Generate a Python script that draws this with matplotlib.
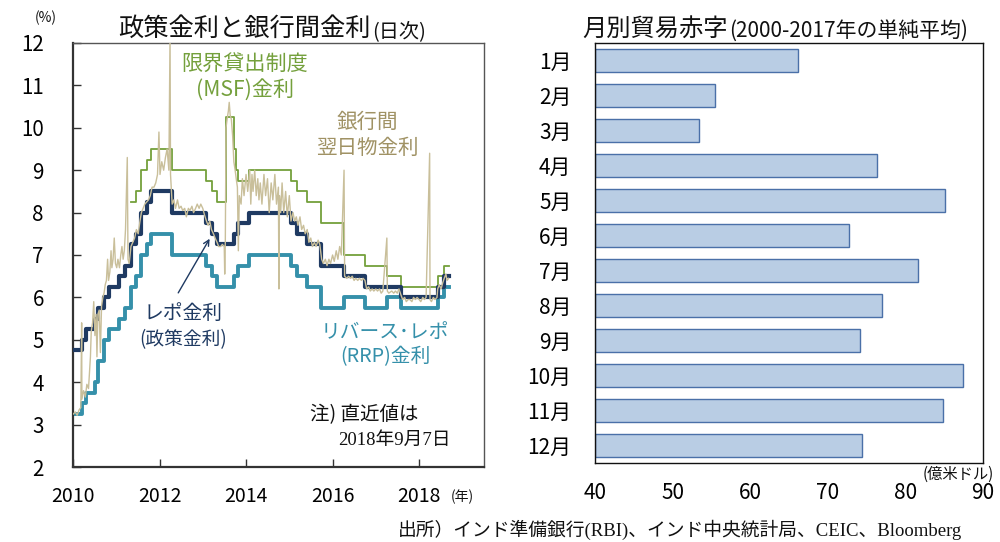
import matplotlib
matplotlib.use("Agg")
import matplotlib.pyplot as plt
import pandas as pd
import numpy as np

plt.rcParams['font.family'] = ['Noto Sans CJK JP', 'DejaVu Sans']

# ---------------- data ----------------
end_date = "2018-09-07"

repo_dates = ["2010-01-01", "2010-03-19", "2010-04-20", "2010-07-02", "2010-07-27", "2010-09-16",
              "2010-11-02", "2011-01-25", "2011-03-17", "2011-05-03", "2011-06-16", "2011-07-26",
              "2011-09-16", "2011-10-25", "2012-04-17", "2013-01-29", "2013-03-19", "2013-05-03",
              "2013-09-20", "2013-10-29", "2014-01-28", "2015-01-15", "2015-03-04", "2015-06-02",
              "2015-09-29", "2016-04-05", "2016-10-04", "2017-08-02", "2018-06-06", "2018-08-01"]
repo_rates = [4.75, 5.00, 5.25, 5.50, 5.75, 6.00, 6.25, 6.50, 6.75, 7.25, 7.50, 8.00, 8.25, 8.50,
              8.00, 7.75, 7.50, 7.25, 7.50, 7.75, 8.00, 7.75, 7.50, 7.25, 6.75, 6.50, 6.25, 6.00,
              6.25, 6.50]

rrp_dates = ["2010-01-01", "2010-03-19", "2010-04-20", "2010-07-02", "2010-07-27", "2010-09-16",
             "2010-11-02", "2011-01-25", "2011-03-17", "2011-05-03", "2011-06-16", "2011-07-26",
             "2011-09-16", "2011-10-25", "2012-04-17", "2013-01-29", "2013-03-19", "2013-05-03",
             "2013-09-20", "2013-10-29", "2014-01-28", "2015-01-15", "2015-03-04", "2015-06-02",
             "2015-09-29", "2016-04-05", "2016-10-04", "2017-04-06", "2017-08-02", "2018-06-06",
             "2018-08-01"]
rrp_rates = [3.25, 3.50, 3.75, 4.00, 4.50, 5.00, 5.25, 5.50, 5.75, 6.25, 6.50, 7.00, 7.25, 7.50,
             7.00, 6.75, 6.50, 6.25, 6.50, 6.75, 7.00, 6.75, 6.50, 6.25, 5.75, 6.00, 5.75, 6.00,
             5.75, 6.00, 6.25]

msf_dates = ["2011-05-03", "2011-06-16", "2011-07-26", "2011-09-16", "2011-10-25", "2012-04-17",
             "2013-01-29", "2013-03-19", "2013-05-03", "2013-07-15", "2013-09-20", "2013-10-07",
             "2013-10-29", "2014-01-28", "2015-01-15", "2015-03-04", "2015-06-02", "2015-09-29",
             "2016-04-05", "2016-10-04", "2017-04-06", "2017-08-02", "2018-06-06", "2018-08-01"]
msf_rates = [8.25, 8.50, 9.00, 9.25, 9.50, 9.00, 8.75, 8.50, 8.25, 10.25, 9.50, 9.00, 8.75, 9.00,
             8.75, 8.50, 8.25, 7.75, 7.00, 6.75, 6.50, 6.25, 6.50, 6.75]

call_dates = [
    "2010-01-04", "2010-01-20", "2010-02-05", "2010-02-22", "2010-03-08", "2010-03-15", "2010-03-17",
    "2010-03-31", "2010-04-15", "2010-04-28", "2010-05-12", "2010-05-28", "2010-06-04", "2010-06-15",
    "2010-06-25", "2010-07-05", "2010-07-15", "2010-07-22", "2010-07-30", "2010-08-10", "2010-08-20",
    "2010-08-30", "2010-09-10", "2010-09-20", "2010-09-30", "2010-10-10", "2010-10-20", "2010-10-28",
    "2010-11-08", "2010-11-18", "2010-11-25", "2010-12-05", "2010-12-15", "2010-12-25",
    "2011-01-05", "2011-01-15", "2011-01-28", "2011-02-08", "2011-02-18", "2011-02-28", "2011-03-10",
    "2011-03-20", "2011-04-04", "2011-04-10", "2011-04-20", "2011-05-05", "2011-05-20", "2011-06-05",
    "2011-06-20", "2011-07-05", "2011-07-20", "2011-08-01", "2011-08-15", "2011-08-30", "2011-09-15",
    "2011-09-30", "2011-10-15", "2011-10-30", "2011-11-15", "2011-11-30", "2011-12-15", "2011-12-27",
    "2012-01-05", "2012-01-20", "2012-02-05", "2012-02-20", "2012-03-05", "2012-03-20", "2012-03-30",
    "2012-04-03", "2012-04-17", "2012-05-01", "2012-05-15", "2012-06-01", "2012-06-15", "2012-07-01",
    "2012-07-15", "2012-08-01", "2012-08-15", "2012-09-01", "2012-09-15", "2012-10-01", "2012-10-15",
    "2012-11-01", "2012-11-15", "2012-12-01", "2012-12-15",
    "2013-01-01", "2013-01-15", "2013-02-01", "2013-02-15", "2013-03-01", "2013-03-15", "2013-04-01",
    "2013-04-15", "2013-05-01", "2013-05-15", "2013-06-01", "2013-06-15", "2013-07-01", "2013-07-05",
    "2013-07-10", "2013-07-16", "2013-07-25", "2013-08-05", "2013-08-12", "2013-08-20", "2013-08-30",
    "2013-09-10", "2013-09-20", "2013-10-01", "2013-10-10", "2013-10-20", "2013-10-28", "2013-11-05",
    "2013-11-20", "2013-12-01", "2013-12-15",
    "2014-01-01", "2014-01-15", "2014-02-01", "2014-02-10", "2014-02-20", "2014-03-01", "2014-03-15",
    "2014-03-28", "2014-04-10", "2014-04-20", "2014-05-01", "2014-05-15", "2014-06-01", "2014-06-15",
    "2014-07-01", "2014-07-15", "2014-08-01", "2014-08-15", "2014-09-01", "2014-09-15", "2014-10-01",
    "2014-10-05", "2014-10-10", "2014-10-20", "2014-11-01", "2014-11-15", "2014-12-01", "2014-12-15",
    "2015-01-01", "2015-01-15", "2015-02-01", "2015-02-15", "2015-03-01", "2015-03-15", "2015-04-01",
    "2015-04-15", "2015-05-01", "2015-05-15", "2015-06-01", "2015-06-15", "2015-07-01", "2015-07-15",
    "2015-08-01", "2015-08-15", "2015-09-01", "2015-09-15", "2015-10-01", "2015-10-15", "2015-11-01",
    "2015-11-15", "2015-12-01", "2015-12-15",
    "2016-01-01", "2016-01-15", "2016-02-01", "2016-02-15", "2016-03-01", "2016-03-15", "2016-04-07",
    "2016-04-12", "2016-05-01", "2016-05-15", "2016-06-01", "2016-06-15", "2016-07-01", "2016-07-15",
    "2016-08-01", "2016-08-15", "2016-09-01", "2016-09-15", "2016-10-01", "2016-10-15", "2016-11-01",
    "2016-11-15", "2016-12-01", "2016-12-15",
    "2017-01-01", "2017-01-15", "2017-02-01", "2017-02-15", "2017-03-01", "2017-04-04", "2017-04-08",
    "2017-04-20", "2017-05-15", "2017-06-01", "2017-06-15", "2017-07-01", "2017-07-15", "2017-08-02",
    "2017-08-15", "2017-09-01", "2017-09-15", "2017-10-01", "2017-10-15", "2017-11-01", "2017-11-15",
    "2017-12-01", "2017-12-15",
    "2018-01-01", "2018-01-15", "2018-02-01", "2018-02-15", "2018-03-01", "2018-03-31", "2018-04-03",
    "2018-04-15", "2018-05-01", "2018-05-15", "2018-06-01", "2018-06-07", "2018-06-20", "2018-07-05",
    "2018-07-20", "2018-08-01", "2018-08-15", "2018-08-25", "2018-09-07"]
call_rates = [
    3.25, 3.30, 3.22, 3.35, 3.40, 5.40, 3.60,
    3.80, 3.65, 3.95, 3.85, 4.60, 5.20, 5.40,
    5.90, 5.10, 5.60, 4.60, 5.60, 5.70, 4.70,
    5.80, 6.00, 6.10, 6.30, 6.40, 6.90, 6.40,
    6.60, 7.10, 6.70, 6.90, 7.40, 6.80,
    6.70, 6.90, 6.70, 7.00, 7.20, 6.90, 7.10,
    7.60, 9.30, 6.90, 6.80, 7.20, 7.30, 7.40,
    7.60, 7.50, 7.80, 8.00, 8.10, 8.20, 8.25,
    8.30, 8.40, 8.60, 8.60, 8.70, 8.90, 9.90,
    8.90, 9.20, 9.00, 9.30, 9.50, 9.00, 12.2,
    8.90, 8.20, 8.30, 8.10, 8.30, 8.10, 8.15,
    8.05, 8.10, 7.90, 8.10, 8.05, 8.15, 8.00,
    8.10, 8.20, 8.10, 8.20,
    8.10, 7.95, 7.80, 7.70, 7.80, 7.60, 7.50,
    7.40, 7.30, 7.20, 7.20, 7.25, 7.20, 6.55,
    7.30, 10.00, 10.20, 10.40, 10.60, 10.30, 10.20,
    9.80, 9.20, 9.00, 8.80, 8.60, 7.10, 8.40,
    8.20, 8.80, 8.40,
    8.90, 8.50, 9.00, 8.20, 8.90, 8.50, 9.00,
    8.40, 8.80, 8.30, 8.70, 8.20, 8.90, 8.40,
    8.80, 8.00, 8.70, 8.30, 8.90, 8.20, 8.60,
    6.20, 8.40, 8.00, 8.70, 8.00, 8.50, 7.90,
    8.40, 7.80, 8.00, 7.80, 7.90, 7.70, 7.90,
    7.60, 7.70, 7.50, 7.60, 7.30, 7.40, 7.20,
    7.30, 7.20, 7.35, 7.25, 6.90, 6.80, 6.90,
    6.75, 6.90, 6.80,
    7.00, 6.85, 7.10, 6.90, 7.20, 7.00, 9.00,
    6.50, 6.45, 6.50, 6.45, 6.50, 6.40, 6.45,
    6.40, 6.45, 6.40, 6.45, 6.40, 6.20, 6.25,
    6.15, 6.20, 6.15,
    6.20, 6.15, 6.20, 6.10, 6.15, 7.40, 6.15,
    6.10, 6.15, 6.10, 6.15, 6.10, 6.20, 6.05,
    5.95, 6.00, 5.90, 5.95, 5.95, 5.90, 6.00,
    5.95, 6.00,
    5.95, 5.90, 6.00, 5.95, 6.00, 9.40, 5.95,
    5.90, 6.00, 5.95, 6.00, 6.20, 6.30, 6.20,
    6.35, 6.45, 6.55, 6.40, 6.45]

months = ["1月", "2月", "3月", "4月", "5月", "6月", "7月", "8月", "9月", "10月", "11月", "12月"]
deficit = [66.1, 55.4, 53.4, 76.3, 85.1, 72.7, 81.6, 77.0, 74.1, 87.4, 84.8, 74.4]

year_ticks = [2010, 2012, 2014, 2016, 2018]
rate_ticks = [2, 3, 4, 5, 6, 7, 8, 9, 10, 11, 12]
deficit_ticks = [40, 50, 60, 70, 80, 90]


def dec_year(s):
    ts = pd.Timestamp(s)
    days = 366 if ts.is_leap_year else 365
    return ts.year + (ts.dayofyear - 1) / days


def step_xy(dates, rates):
    x = [dec_year(d) for d in dates] + [dec_year(end_date)]
    y = list(rates) + [rates[-1]]
    return x, y


W, H = 1000, 542
fig = plt.figure(figsize=(W / 100, H / 100), dpi=100)


def fx(px):
    return px / W


def fy(py):
    return 1 - py / H


# ---------------- left chart ----------------
C_MSF = "#74a03c"
C_CALL = "#c9bf9a"
C_CALL_T = "#a09264"
C_REPO = "#1f3a62"
C_RRP = "#3590aa"

axL = fig.add_axes([fx(73), fy(467), fx(484) - fx(73), fy(43) - fy(467)])
axL.set_xlim(2010, 2019.5)
axL.set_ylim(2, 12)

x, y = step_xy(msf_dates, msf_rates)
axL.step(x, y, where='post', color=C_MSF, lw=1.3, zorder=2)
x, y = step_xy(rrp_dates, rrp_rates)
axL.step(x, y, where='post', color=C_RRP, lw=2.8, zorder=2)
x, y = step_xy(repo_dates, repo_rates)
axL.step(x, y, where='post', color=C_REPO, lw=3.0, zorder=3)
axL.plot([dec_year(d) for d in call_dates], call_rates, color=C_CALL, lw=1.0, zorder=4)

axL.set_xticks(year_ticks)
axL.set_yticks(rate_ticks)
axL.tick_params(axis='both', direction='in', length=6, width=1, labelsize=14, color="#333333")
axL.tick_params(axis='y', pad=21, labelsize=14.8)
axL.tick_params(axis='x', pad=14)
for s in ['left', 'bottom']:
    axL.spines[s].set_linewidth(1.6)
    axL.spines[s].set_color("#333333")
for s in ['top', 'right']:
    axL.spines[s].set_linewidth(1.0)
    axL.spines[s].set_color("#555555")

axL.annotate("", xy=(2013.19, 7.44), xytext=(2012.40, 6.05),
             arrowprops=dict(arrowstyle='->', color=C_REPO, lw=1.0), zorder=5)

# left texts
t1 = fig.text(fx(118), fy(36), "政策金利と銀行間金利", fontsize=18.2, ha='left', va='baseline', color="#111111")
axL.annotate("(日次)", xy=(1, 0), xycoords=t1, xytext=(1, 0), textcoords='offset points',
             fontsize=14.5, ha='left', va='bottom', color="#111111", annotation_clip=False)
fig.text(fx(46), fy(18), "(%)", fontsize=10, ha='center', va='center', color="#111111")
fig.text(fx(462), fy(497), "(年)", fontsize=10, ha='center', va='center', color="#111111")

fig.text(fx(245), fy(64), "限界貸出制度", fontsize=15.2, ha='center', va='center', color=C_MSF)
fig.text(fx(245), fy(90), "(MSF)金利", fontsize=15.2, ha='center', va='center', color=C_MSF)
fig.text(fx(367), fy(122), "銀行間", fontsize=14.8, ha='center', va='center', color=C_CALL_T)
fig.text(fx(367), fy(148), "翌日物金利", fontsize=14.8, ha='center', va='center', color=C_CALL_T)
fig.text(fx(183), fy(313), "レポ金利", fontsize=14.2, ha='center', va='center', color=C_REPO)
fig.text(fx(183), fy(340), "(政策金利)", fontsize=13.5, ha='center', va='center', color=C_REPO)
fig.text(fx(385), fy(332), "リバース･レポ", fontsize=14.2, ha='center', va='center', color=C_RRP)
fig.text(fx(385), fy(357), "(RRP)金利", fontsize=14.2, ha='center', va='center', color=C_RRP)
fig.text(fx(310), fy(415), "注) 直近値は", fontsize=14, ha='left', va='center', color="#111111")
fig.text(fx(338), fy(440), "2018年9月7日", fontsize=13.5, ha='left', va='center', color="#111111",
         family=['Liberation Serif', 'Noto Sans CJK JP'])

# ---------------- right chart ----------------
axR = fig.add_axes([fx(595), fy(463), fx(983) - fx(595), fy(43) - fy(463)])
ypos = np.arange(len(months))
axR.barh(ypos, [v - 40 for v in deficit], left=40, height=0.68,
         color="#b9cde4", edgecolor="#4a70a8", linewidth=1.0)
axR.set_xlim(40, 90)
axR.set_ylim(len(months) - 0.5, -0.5)
axR.set_yticks(ypos)
axR.set_yticklabels(months)
axR.set_xticks(deficit_ticks)
axR.tick_params(axis='both', length=0, labelsize=15)
axR.tick_params(axis='y', pad=17)
axR.tick_params(axis='x', pad=14)
for s in axR.spines.values():
    s.set_linewidth(1.0)
    s.set_color("#111111")

t2 = fig.text(fx(582), fy(36), "月別貿易赤字", fontsize=17.5, ha='left', va='baseline', color="#111111")
axR.annotate("(2000-2017年の単純平均)", xy=(1, 0), xycoords=t2, xytext=(1, 0), textcoords='offset points',
             fontsize=15, ha='left', va='bottom', color="#111111", annotation_clip=False)
fig.text(fx(958), fy(474), "(億米ドル)", fontsize=11, ha='center', va='center', color="#111111")

fig.text(fx(398), fy(530), "出所）インド準備銀行(RBI)、インド中央統計局、CEIC、Bloomberg", fontsize=13.5,
         ha='left', va='center', color="#111111", family=['Liberation Serif', 'Noto Sans CJK JP'])

fig.savefig("out.png", dpi=100)
